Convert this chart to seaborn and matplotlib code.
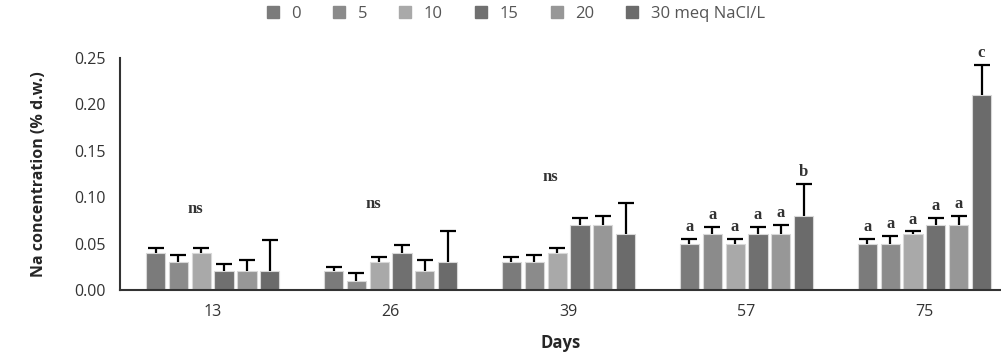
import numpy as np
import pandas as pd
import matplotlib
matplotlib.use('Agg')
import matplotlib.pyplot as plt
import seaborn as sns

# Days and salt levels
days = ['13', '26', '39', '57', '75']
levels = ['0', '5', '10', '15', '20', '30 meq NaCl/L']

# Mean Na concentration per level (one list per salt level, over days)
na_0 = [0.04, 0.02, 0.03, 0.05, 0.05]
na_5 = [0.03, 0.01, 0.03, 0.06, 0.05]
na_10 = [0.04, 0.03, 0.04, 0.05, 0.06]
na_15 = [0.02, 0.04, 0.07, 0.06, 0.07]
na_20 = [0.02, 0.02, 0.07, 0.06, 0.07]
na_30 = [0.02, 0.03, 0.06, 0.08, 0.21]

# Upper error (SE) per level
se_0 = [0.005, 0.005, 0.005, 0.005, 0.005]
se_5 = [0.008, 0.008, 0.008, 0.008, 0.008]
se_10 = [0.005, 0.005, 0.005, 0.005, 0.003]
se_15 = [0.008, 0.008, 0.008, 0.008, 0.008]
se_20 = [0.012, 0.012, 0.010, 0.010, 0.010]
se_30 = [0.034, 0.033, 0.034, 0.034, 0.033]

# Significance letters
letters_57 = ['a', 'a', 'a', 'a', 'a', 'b']
letters_75 = ['a', 'a', 'a', 'a', 'a', 'c']
ns_heights = [0.084, 0.089, 0.118]

colors = ['#7b7b7b', '#8b8b8b', '#a9a9a9', '#707070', '#979797', '#6b6b6b']

means = [na_0, na_5, na_10, na_15, na_20, na_30]
errs = [se_0, se_5, se_10, se_15, se_20, se_30]
rows = []
for lev, m, e in zip(levels, means, errs):
    for d, v, s in zip(days, m, e):
        rows.append({'Days': d, 'Level': lev, 'Na': v, 'se': s})
df = pd.DataFrame(rows)

sns.set_style('white')
plt.rcParams['font.family'] = ['Open Sans', 'DejaVu Sans']

fig = plt.figure(figsize=(10.01, 3.61), dpi=100)
ax = fig.add_axes([0.12, 0.197, 0.88, 0.642])

sns.barplot(data=df, x='Days', y='Na', hue='Level', order=days, hue_order=levels,
            palette=colors, width=0.77, gap=0.16, errorbar=None, ax=ax,
            legend=False, saturation=1, edgecolor='#d8d8d8', linewidth=0.8)

# one-sided error bars from bar geometry (cap only on top)
for i, lev in enumerate(levels):
    cont = ax.containers[i]
    xs = [p.get_x() + p.get_width() / 2 for p in cont.patches]
    hs = [p.get_height() for p in cont.patches]
    _, caps, _ = ax.errorbar(xs, hs, yerr=[np.zeros(len(hs)), errs[i]], fmt='none',
                             ecolor='black', elinewidth=1.6, capsize=6, capthick=1.6)
    caps[0].set_visible(False)

serif = dict(family='Liberation Serif', fontweight='bold', fontsize=12,
             color='#333333', ha='center', va='bottom')
for j, h in enumerate(ns_heights):
    ax.text(j - 0.1, h - 0.005, 'ns', **serif)

for j, letters in [(3, letters_57), (4, letters_75)]:
    for i, let in enumerate(letters):
        p = ax.containers[i].patches[j]
        top = p.get_height() + errs[i][j]
        ax.text(p.get_x() + p.get_width() / 2, top + 0.004, let,
                clip_on=False, **serif)

ax.set_ylim(0, 0.25)
ax.set_xlim(-0.52, 4.43)
ax.set_yticks([0, 0.05, 0.10, 0.15, 0.20, 0.25])
ax.set_yticklabels(['0.00', '0.05', '0.10', '0.15', '0.20', '0.25'])
ax.tick_params(axis='y', labelsize=11.5, length=0, pad=10, colors='#333333')
ax.tick_params(axis='x', labelsize=11.5, length=0, pad=10, colors='#333333')
ax.set_ylabel('Na concentration (% d.w.)', fontsize=11.5, fontweight='bold', labelpad=20)
ax.set_xlabel('Days', fontsize=12, fontweight='bold', labelpad=10)
for s in ['top', 'right']:
    ax.spines[s].set_visible(False)
for s in ['left', 'bottom']:
    ax.spines[s].set_color('#333333')
    ax.spines[s].set_linewidth(1.5)

handles = [plt.Line2D([], [], marker='s', linestyle='none', markersize=8,
                      markerfacecolor=c, markeredgecolor=c) for c in colors]
fig.legend(handles, levels, loc='upper center', bbox_to_anchor=(0.51, 1.025),
           ncol=6, frameon=False, fontsize=12, handletextpad=0.1,
           columnspacing=1.3, labelcolor='#555555')

fig.savefig('out.png', dpi=100)
